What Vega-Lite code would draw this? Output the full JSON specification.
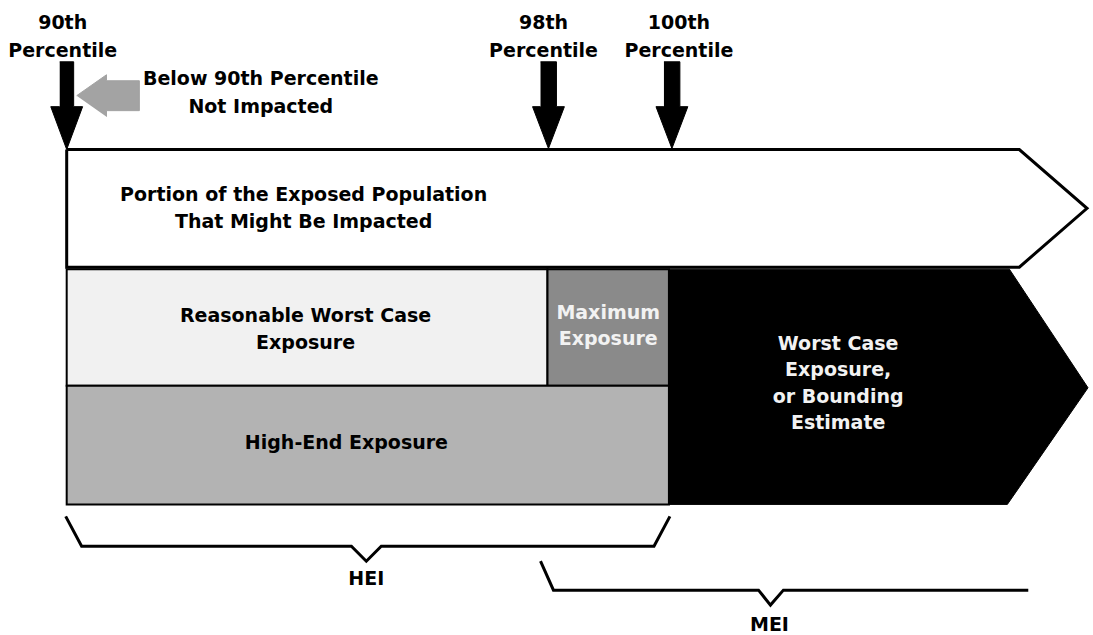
{
  "$schema": "https://vega.github.io/schema/vega-lite/v6.json",
  "width": 1093,
  "height": 635,
  "autosize": {"type": "fit", "contains": "padding"},
  "padding": 0,
  "background": "white",
  "config": {"view": {"stroke": null}},
  "datasets": {
    "rects": [
      {"part": "reasonable", "x": 67, "x2": 550, "y": 270, "y2": 387},
      {"part": "maximum", "x": 550, "x2": 672, "y": 270, "y2": 387},
      {"part": "highend", "x": 67, "x2": 672, "y": 387, "y2": 506}
    ],
    "white": [
      {"part": "portion", "i": 0, "x": 67, "y": 150},
      {"part": "portion", "i": 1, "x": 1024, "y": 150},
      {"part": "portion", "i": 2, "x": 1092, "y": 209},
      {"part": "portion", "i": 3, "x": 1024, "y": 268},
      {"part": "portion", "i": 4, "x": 67, "y": 268},
      {"part": "portion", "i": 5, "x": 67, "y": 150}
    ],
    "black": [
      {"part": "worst", "i": 0, "x": 672, "y": 270},
      {"part": "worst", "i": 1, "x": 1014, "y": 270},
      {"part": "worst", "i": 2, "x": 1093, "y": 389},
      {"part": "worst", "i": 3, "x": 1012, "y": 506},
      {"part": "worst", "i": 4, "x": 672, "y": 506},
      {"part": "a90", "i": 0, "x": 60, "y": 62},
      {"part": "a90", "i": 1, "x": 74, "y": 62},
      {"part": "a90", "i": 2, "x": 74, "y": 107},
      {"part": "a90", "i": 3, "x": 83, "y": 107},
      {"part": "a90", "i": 4, "x": 67, "y": 150},
      {"part": "a90", "i": 5, "x": 51, "y": 107},
      {"part": "a90", "i": 6, "x": 60, "y": 107},
      {"part": "a98", "i": 0, "x": 543, "y": 62},
      {"part": "a98", "i": 1, "x": 559, "y": 62},
      {"part": "a98", "i": 2, "x": 559, "y": 107},
      {"part": "a98", "i": 3, "x": 567, "y": 107},
      {"part": "a98", "i": 4, "x": 551, "y": 149},
      {"part": "a98", "i": 5, "x": 535, "y": 107},
      {"part": "a98", "i": 6, "x": 543, "y": 107},
      {"part": "a100", "i": 0, "x": 667, "y": 62},
      {"part": "a100", "i": 1, "x": 683, "y": 62},
      {"part": "a100", "i": 2, "x": 683, "y": 107},
      {"part": "a100", "i": 3, "x": 691, "y": 107},
      {"part": "a100", "i": 4, "x": 675, "y": 149},
      {"part": "a100", "i": 5, "x": 659, "y": 107},
      {"part": "a100", "i": 6, "x": 667, "y": 107}
    ],
    "gray": [
      {"part": "left", "i": 0, "x": 77, "y": 96},
      {"part": "left", "i": 1, "x": 107, "y": 75},
      {"part": "left", "i": 2, "x": 107, "y": 81},
      {"part": "left", "i": 3, "x": 140, "y": 81},
      {"part": "left", "i": 4, "x": 140, "y": 111},
      {"part": "left", "i": 5, "x": 107, "y": 111},
      {"part": "left", "i": 6, "x": 107, "y": 117}
    ],
    "braces": [
      {"part": "HEI", "i": 0, "x": 66, "y": 518},
      {"part": "HEI", "i": 1, "x": 82, "y": 548},
      {"part": "HEI", "i": 2, "x": 353, "y": 548},
      {"part": "HEI", "i": 3, "x": 368, "y": 563},
      {"part": "HEI", "i": 4, "x": 383, "y": 548},
      {"part": "HEI", "i": 5, "x": 657, "y": 548},
      {"part": "HEI", "i": 6, "x": 673, "y": 518},
      {"part": "MEI", "i": 0, "x": 543, "y": 563},
      {"part": "MEI", "i": 1, "x": 556, "y": 592},
      {"part": "MEI", "i": 2, "x": 762, "y": 592},
      {"part": "MEI", "i": 3, "x": 774, "y": 607},
      {"part": "MEI", "i": 4, "x": 787, "y": 592},
      {"part": "MEI", "i": 5, "x": 1033, "y": 592}
    ],
    "labels": [
      {"tone": "dark", "text": "90th", "x": 63, "y": 29},
      {"tone": "dark", "text": "Percentile", "x": 63, "y": 57},
      {"tone": "dark", "text": "98th", "x": 546, "y": 29},
      {"tone": "dark", "text": "Percentile", "x": 546, "y": 57},
      {"tone": "dark", "text": "100th", "x": 682, "y": 29},
      {"tone": "dark", "text": "Percentile", "x": 682, "y": 57},
      {"tone": "dark", "text": "Below 90th Percentile", "x": 262, "y": 85},
      {"tone": "dark", "text": "Not Impacted", "x": 262, "y": 113},
      {"tone": "dark", "text": "Portion of the Exposed Population", "x": 305, "y": 202},
      {"tone": "dark", "text": "That Might Be Impacted", "x": 305, "y": 229},
      {"tone": "dark", "text": "Reasonable Worst Case", "x": 307, "y": 323},
      {"tone": "dark", "text": "Exposure", "x": 307, "y": 350},
      {"tone": "light", "text": "Maximum", "x": 611, "y": 320},
      {"tone": "light", "text": "Exposure", "x": 611, "y": 346},
      {"tone": "dark", "text": "High-End Exposure", "x": 348, "y": 450},
      {"tone": "light", "text": "Worst Case", "x": 842, "y": 351},
      {"tone": "light", "text": "Exposure,", "x": 842, "y": 377},
      {"tone": "light", "text": "or Bounding", "x": 842, "y": 404},
      {"tone": "light", "text": "Estimate", "x": 842, "y": 430},
      {"tone": "dark", "text": "HEI", "x": 368, "y": 587},
      {"tone": "dark", "text": "MEI", "x": 773, "y": 633}
    ]
  },
  "encoding": {
    "x": {"field": "x", "type": "quantitative", "scale": {"domain": [0, 1093], "nice": false, "zero": false}, "axis": null},
    "y": {"field": "y", "type": "quantitative", "scale": {"domain": [0, 635], "nice": false, "zero": false, "reverse": true}, "axis": null}
  },
  "layer": [
    {
      "data": {"name": "white"},
      "mark": {"type": "line", "fill": "white", "stroke": "black", "strokeWidth": 3, "strokeJoin": "miter"},
      "encoding": {"order": {"field": "i", "type": "quantitative"}, "detail": {"field": "part"}}
    },
    {
      "data": {"name": "rects"},
      "mark": {"type": "rect", "stroke": "black", "strokeWidth": 2},
      "encoding": {
        "x2": {"field": "x2"},
        "y2": {"field": "y2"},
        "fill": {"field": "part", "type": "nominal", "scale": {"domain": ["reasonable", "maximum", "highend"], "range": ["#f1f1f1", "#8a8a8a", "#b3b3b3"]}, "legend": null}
      }
    },
    {
      "data": {"name": "black"},
      "mark": {"type": "line", "fill": "black", "stroke": "black", "strokeWidth": 1},
      "encoding": {"order": {"field": "i", "type": "quantitative"}, "detail": {"field": "part"}}
    },
    {
      "data": {"name": "gray"},
      "mark": {"type": "line", "fill": "#a3a3a3", "stroke": "#a3a3a3", "strokeWidth": 1},
      "encoding": {"order": {"field": "i", "type": "quantitative"}, "detail": {"field": "part"}}
    },
    {
      "data": {"name": "braces"},
      "mark": {"type": "line", "stroke": "black", "strokeWidth": 3, "strokeJoin": "miter"},
      "encoding": {"order": {"field": "i", "type": "quantitative"}, "detail": {"field": "part"}}
    },
    {
      "data": {"name": "labels"},
      "mark": {"type": "text", "font": "DejaVu Sans", "fontWeight": "bold", "fontSize": 19, "align": "center", "baseline": "alphabetic"},
      "encoding": {
        "text": {"field": "text"},
        "color": {"field": "tone", "type": "nominal", "scale": {"domain": ["dark", "light"], "range": ["#000000", "#f2f2f2"]}, "legend": null}
      }
    }
  ]
}
